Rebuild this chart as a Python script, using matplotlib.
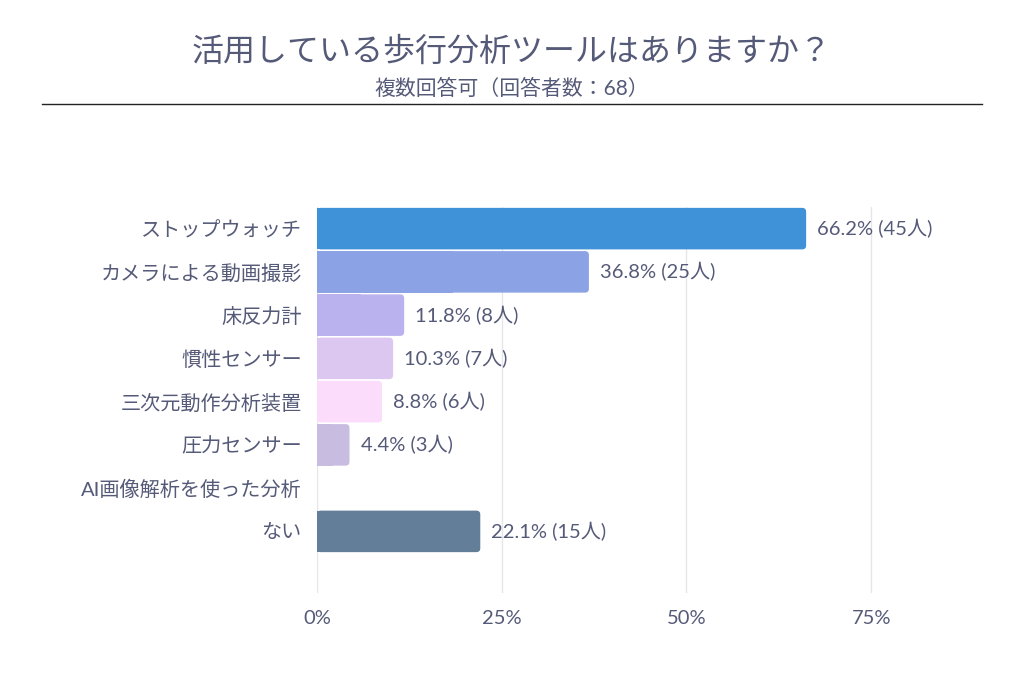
import matplotlib
matplotlib.use("Agg")
import matplotlib.pyplot as plt
from matplotlib.patches import FancyBboxPatch

plt.rcParams['font.family'] = ['Lato', 'Noto Sans CJK JP', 'DejaVu Sans']

categories = ['ストップウォッチ', 'カメラによる動画撮影', '床反力計', '慣性センサー',
              '三次元動作分析装置', '圧力センサー', 'AI画像解析を使った分析', 'ない']
percent = [66.2, 36.8, 11.8, 10.3, 8.8, 4.4, 0.0, 22.1]
counts = [45, 25, 8, 7, 6, 3, 0, 15]
colors = ['#3f91d8', '#8ba3e4', '#bab2ef', '#dcc7f1', '#fcdcfb', '#c8bde0', '#e0e0e0', '#627e99']
ticks = [0, 25, 50, 75]
tick_labels = ['0%', '25%', '50%', '75%']

text_color = '#555a78'
W, H = 1024, 691
fig = plt.figure(figsize=(W / 100, H / 100), dpi=100)

# axes rect in pixels: left 317, right 982, top 207, bottom 593
ax = fig.add_axes([317 / W, 1 - 593 / H, (982 - 317) / W, (593 - 207) / H])
xmax = 90
slot = 346 / 8
ax.set_xlim(0, xmax)
ax.set_ylim(7.5 + 40 / slot, -0.5)

y = list(range(len(categories)))
bh = 0.96
# square left half + rounded full bar
ax.barh(y, [p / 2 for p in percent], height=bh, color=colors, edgecolor='none', zorder=3)
xpp = xmax / 665
ypp = 1 / slot
for i, p in enumerate(percent):
    if p <= 0:
        continue
    box = FancyBboxPatch((0, i - bh / 2), p, bh,
                         boxstyle='round,pad=0,rounding_size=%f' % (4 * xpp),
                         mutation_aspect=ypp / xpp,
                         facecolor=colors[i], edgecolor='none', zorder=3)
    ax.add_patch(box)

for i, (p, c) in enumerate(zip(percent, counts)):
    if c == 0:
        continue
    ax.annotate(f'{p}% ({c}人)', (p, i), xytext=(8, 0), textcoords='offset points',
                va='center', ha='left', fontsize=14.5, color=text_color, zorder=4)

ax.set_yticks(y)
ax.set_yticklabels(categories, fontsize=14.5, color=text_color)
ax.set_xticks(ticks)
ax.set_xticklabels(tick_labels, fontsize=14.5, color=text_color)
ax.tick_params(axis='y', length=0, pad=11)
ax.tick_params(axis='x', length=0, pad=12)
ax.grid(axis='x', color='#e6e6e9', linewidth=1, zorder=0)
for s in ax.spines.values():
    s.set_visible(False)

fig.text(512 / W, 1 - 52 / H, '活用している歩行分析ツールはありますか？', ha='center', va='center',
         fontsize=23, color=text_color)
fig.text(512 / W, 1 - 89 / H, '複数回答可（回答者数：68）', ha='center', va='center',
         fontsize=15, color=text_color)
fig.add_artist(plt.Line2D([42 / W, 982 / W], [1 - 104 / H, 1 - 104 / H], color='#222222', linewidth=1))

fig.savefig('out.png', dpi=100, facecolor='white')
